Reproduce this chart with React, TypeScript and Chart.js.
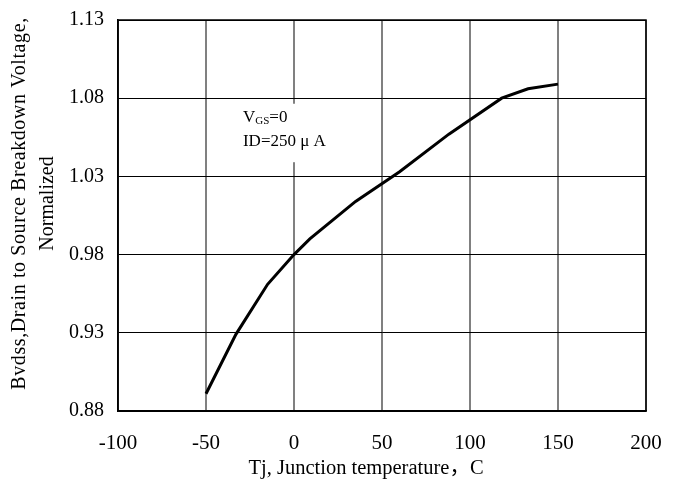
import React, { useEffect, useRef } from "react";
import { Chart, registerables } from "chart.js";

Chart.register(...registerables);

const tempC = [-50, -33, -15, 0, 9, 35, 60, 88, 118, 133, 150];
const bvdssNorm = [0.891, 0.929, 0.961, 0.98, 0.99, 1.014, 1.033, 1.057, 1.08, 1.086, 1.089];

const xTicks = [-100, -50, 0, 50, 100, 150, 200];
const yTicks = [0.88, 0.93, 0.98, 1.03, 1.08, 1.13];

const yTitle = ["Bvdss,Drain to Source Breakdown Voltage,", "Normalized"];
const xTitle = "Tj, Junction temperature，C";
const noteLine1 = { main: "V", sub: "GS", rest: "=0" };
const noteLine2 = "ID=250 μ A";
const notePos = { x: -29, y1: 1.0675, y2: 1.0525 };

const FONT = "'Liberation Serif', 'Noto Sans CJK SC', serif";

const annotationPlugin = {
  id: "note",
  afterDatasetsDraw(chart: any) {
    const { ctx, scales } = chart;
    const x = scales.x.getPixelForValue(notePos.x);
    const y1 = scales.y.getPixelForValue(notePos.y1);
    const y2 = scales.y.getPixelForValue(notePos.y2);
    ctx.save();
    ctx.font = `17px ${FONT}`;
    const w2 = ctx.measureText(noteLine2).width;
    ctx.fillStyle = "#ffffff";
    ctx.fillRect(x - 4, y1 - 14, w2 + 10, y2 - y1 + 35);
    ctx.fillStyle = "#000000";
    ctx.textBaseline = "middle";
    ctx.textAlign = "left";
    ctx.font = `17px ${FONT}`;
    ctx.fillText(noteLine1.main, x, y1);
    let cx = x + ctx.measureText(noteLine1.main).width;
    ctx.font = `11px ${FONT}`;
    ctx.fillText(noteLine1.sub, cx, y1 + 3);
    cx += ctx.measureText(noteLine1.sub).width;
    ctx.font = `17px ${FONT}`;
    ctx.fillText(noteLine1.rest, cx, y1);
    ctx.fillText(noteLine2, x, y2);
    ctx.restore();
  },
};

const titlesPlugin = {
  id: "titles",
  afterDraw(chart: any) {
    const { ctx, chartArea } = chart;
    const cy = (chartArea.top + chartArea.bottom) / 2 - 12;
    ctx.save();
    ctx.translate(20, cy);
    ctx.rotate(-Math.PI / 2);
    ctx.fillStyle = "#000";
    ctx.textAlign = "center";
    ctx.textBaseline = "middle";
    ctx.font = `20px ${FONT}`;
    (ctx as any).letterSpacing = "0.6px";
    ctx.fillText(yTitle[0], 0, 0);
    (ctx as any).letterSpacing = "0px";
    ctx.fillText(yTitle[1], 0, 28);
    ctx.restore();
    ctx.save();
    ctx.fillStyle = "#000";
    ctx.textAlign = "center";
    ctx.textBaseline = "middle";
    ctx.font = `20.5px ${FONT}`;
    const cx = (chartArea.left + chartArea.right) / 2 - 16;
    ctx.fillText(xTitle, cx, chartArea.bottom + 58);
    ctx.restore();
  },
};

export default function App() {
  const ref = useRef<HTMLCanvasElement>(null);
  useEffect(() => {
    if (!ref.current) return;
    const chart = new Chart(ref.current, {
      type: "scatter",
      data: {
        datasets: [
          {
            data: tempC.map((t, i) => ({ x: t, y: bvdssNorm[i] })),
            showLine: true,
            borderColor: "#000000",
            borderWidth: 3,
            pointRadius: 0,
            tension: 0,
          },
        ],
      },
      options: {
        animation: false,
        responsive: false,
        layout: { padding: { left: 0, right: 31, top: 20, bottom: 0 } },
        plugins: { legend: { display: false }, tooltip: { enabled: false } },
        scales: {
          x: {
            type: "linear",
            min: -100,
            max: 200,
            afterBuildTicks: (s: any) => {
              s.ticks = xTicks.map((v) => ({ value: v }));
            },
            afterFit: (s: any) => {
              s.height = 76;
              s.paddingLeft = 0;
              s.paddingRight = 0;
            },
            ticks: {
              color: "#000",
              font: { family: FONT, size: 21 },
              padding: 20,
              maxRotation: 0,
            },
            grid: { color: "#808080", lineWidth: 2, drawTicks: false },
            border: { color: "#000", width: 1.5 },
            title: { display: false },
          },
          y: {
            type: "linear",
            min: 0.88,
            max: 1.13,
            afterBuildTicks: (s: any) => {
              s.ticks = yTicks.map((v) => ({ value: v }));
            },
            afterFit: (s: any) => {
              s.width = 118;
              s.paddingTop = 0;
              s.paddingBottom = 0;
            },
            ticks: {
              color: "#000",
              font: { family: FONT, size: 20 },
              padding: 14,
              callback: (v: any) => Number(v).toFixed(2),
            },
            grid: { color: "#000000", lineWidth: 1, drawTicks: false },
            border: { color: "#000", width: 1.5 },
            title: { display: false },
          },
        },
      },
      plugins: [
        annotationPlugin,
        titlesPlugin,
        {
          id: "frame",
          afterDraw(chart: any) {
            const { ctx, chartArea } = chart;
            ctx.save();
            ctx.strokeStyle = "#000";
            ctx.lineWidth = 1.5;
            ctx.strokeRect(chartArea.left, chartArea.top, chartArea.right - chartArea.left, chartArea.bottom - chartArea.top);
            ctx.restore();
          },
        },
      ],
    } as any);
    return () => chart.destroy();
  }, []);
  return (
    <div style={{ position: "absolute", left: 0, top: 0, width: 677, height: 487, background: "#fff" }}>
      <canvas ref={ref} width={677} height={487} style={{ display: "block" }} />
    </div>
  );
}
